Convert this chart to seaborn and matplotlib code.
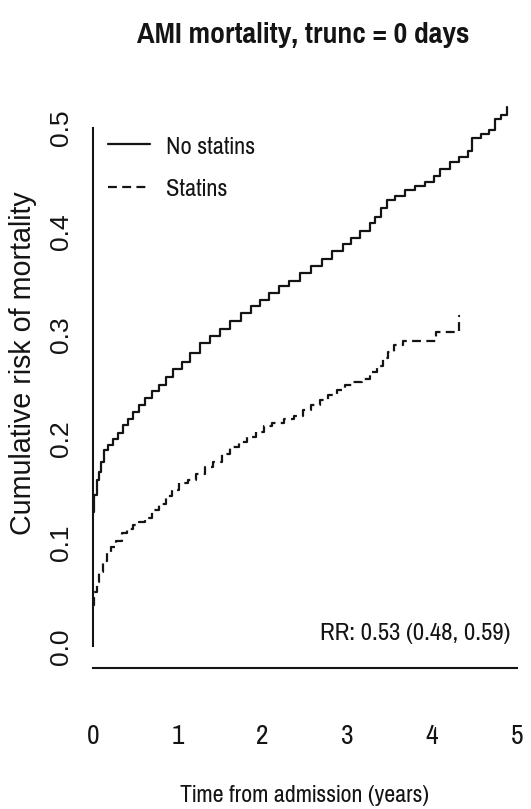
import matplotlib
matplotlib.use("Agg")
import matplotlib.pyplot as plt
from matplotlib import font_manager
from matplotlib.lines import Line2D
import seaborn as sns
import pandas as pd

# ---------------- data ----------------
no_statins_t = [0.00, 0.02, 0.05, 0.08, 0.10, 0.13, 0.18, 0.24, 0.30, 0.36, 0.42, 0.48,
                0.55, 0.62, 0.70, 0.78, 0.87, 0.95, 1.05, 1.15, 1.27, 1.38, 1.50, 1.62,
                1.75, 1.87, 1.97, 2.08, 2.20, 2.32, 2.45, 2.58, 2.70, 2.82, 2.95, 3.05,
                3.15, 3.27, 3.33, 3.40, 3.47, 3.56, 3.68, 3.80, 3.92, 4.02, 4.10, 4.21,
                4.32, 4.42, 4.47, 4.58, 4.67, 4.74, 4.82, 4.88]
no_statins_v = [0.130, 0.146, 0.160, 0.168, 0.178, 0.189, 0.194, 0.200, 0.206, 0.213, 0.219, 0.226,
                0.233, 0.239, 0.246, 0.252, 0.260, 0.267, 0.274, 0.283, 0.292, 0.299, 0.306, 0.314,
                0.321, 0.328, 0.334, 0.341, 0.347, 0.352, 0.360, 0.367, 0.373, 0.381, 0.388, 0.394,
                0.400, 0.408, 0.414, 0.422, 0.430, 0.434, 0.440, 0.444, 0.448, 0.453, 0.460, 0.467,
                0.472, 0.477, 0.490, 0.494, 0.498, 0.508, 0.512, 0.520]

statins_t = [0.00, 0.02, 0.05, 0.08, 0.12, 0.17, 0.22, 0.28, 0.34, 0.40, 0.47, 0.55,
             0.62, 0.70, 0.78, 0.86, 0.94, 1.02, 1.12, 1.22, 1.32, 1.42, 1.52, 1.62,
             1.72, 1.82, 1.92, 2.02, 2.12, 2.25, 2.37, 2.48, 2.58, 2.68, 2.78, 2.88,
             2.97, 3.07, 3.17, 3.27, 3.35, 3.42, 3.48, 3.55, 3.66, 4.05, 4.32, 4.33]
statins_v = [0.040, 0.052, 0.062, 0.072, 0.082, 0.090, 0.096, 0.102, 0.109, 0.113, 0.117, 0.120,
             0.124, 0.131, 0.137, 0.145, 0.151, 0.157, 0.160, 0.166, 0.173, 0.178, 0.185, 0.192,
             0.197, 0.202, 0.207, 0.212, 0.215, 0.219, 0.222, 0.228, 0.233, 0.237, 0.242, 0.247,
             0.252, 0.255, 0.258, 0.264, 0.270, 0.278, 0.284, 0.290, 0.294, 0.303, 0.318, 0.318]

series_labels = ["No statins", "Statins"]
x_ticks = [0, 1, 2, 3, 4, 5]
y_ticks = [0.0, 0.1, 0.2, 0.3, 0.4, 0.5]
y_tick_labels = ["0.0", "0.1", "0.2", "0.3", "0.4", "0.5"]
title_text = "AMI mortality, trunc = 0 days"
x_label = "Time from admission (years)"
y_label = "Cumulative risk of mortality"
rr_text = "RR: 0.53 (0.48, 0.59)"

# ---------------- fonts ----------------
sns.set_style("white")
fl = font_manager.fontManager.ttflist
names = {f.name for f in fl}
def pick(cands, bold=False):
    for c in cands:
        if c in names:
            if not bold or any(f.name == c and f.weight in (700, "bold") for f in fl):
                return c
    return "Liberation Sans"
NARROW = pick(["Liberation Sans Narrow", "Arial Narrow", "Pragati Narrow", "Roboto Condensed",
               "PT Sans Narrow", "Archivo Narrow"])
NARROW_B = pick(["Liberation Sans Narrow", "Arial Narrow", "Pragati Narrow", "Roboto Condensed",
                 "PT Sans Narrow", "Archivo Narrow", "Asap Condensed"], bold=True)
REG = "Liberation Sans"
plt.rcParams["font.family"] = [REG, "DejaVu Sans"]
INK = "#141414"

W, H = 531, 809
fig = plt.figure(figsize=(W / 100, H / 100), dpi=100)
ax_left, ax_right, ax_top, ax_bottom = 92.7, 516.7, 85.0, 668.0
AW, AH = ax_right - ax_left, ax_bottom - ax_top
ax = fig.add_axes([ax_left / W, 1 - ax_bottom / H, AW / W, AH / H])

df_a = pd.DataFrame({"t": no_statins_t, "v": no_statins_v})
df_b = pd.DataFrame({"t": statins_t, "v": statins_v})
LW = 1.6
DASH = (0, (4.0, 2.4))
sns.lineplot(data=df_a, x="t", y="v", ax=ax, color=INK, lw=LW, drawstyle="steps-post",
             errorbar=None, estimator=None)
sns.lineplot(data=df_b, x="t", y="v", ax=ax, color=INK, lw=LW, drawstyle="steps-post",
             errorbar=None, estimator=None, linestyle=DASH)

ax.set_xlim(0, 5)
ax.set_ylim(-0.0208, 0.541)
for s in ["top", "right"]:
    ax.spines[s].set_visible(False)
ax.spines["left"].set_bounds(0, 0.5)
ax.spines["bottom"].set_bounds(0, 5)
for s in ["left", "bottom"]:
    ax.spines[s].set_linewidth(1.5)
    ax.spines[s].set_color(INK)

ax.set_xticks(x_ticks)
ax.set_xticklabels([str(x) for x in x_ticks], fontfamily=NARROW, fontsize=16, color=INK)
ax.set_yticks(y_ticks)
ax.set_yticklabels(y_tick_labels, fontfamily=REG, fontsize=15, color=INK,
                   rotation=90, va="center", ha="right")
ax.tick_params(axis="x", direction="out", length=15, width=1.5, pad=24, color=INK)
ax.tick_params(axis="y", direction="out", length=9.4, width=1.5, pad=9, color=INK)

ax.set_xlabel(x_label, fontfamily=NARROW, fontsize=17, color=INK)
ax.xaxis.label.set(va="center", ha="center")
ax.xaxis.set_label_coords(0.5, -(795 - ax_bottom) / AH)
ax.set_ylabel(y_label, fontfamily=REG, fontsize=17, color=INK)
ax.yaxis.label.set(va="center", ha="center", rotation_mode="anchor")
ax.yaxis.set_label_coords((23 - ax_left) / AW, (ax_bottom - 363) / AH)

title = fig.text(303 / W, 1 - 43 / H, title_text, fontfamily=NARROW_B, fontweight="bold",
                 fontsize=21, ha="center", va="baseline", color=INK)
rr = ax.text(510 / W, 1 - 634 / H, rr_text, transform=fig.transFigure, fontfamily=NARROW,
             fontsize=17, ha="right", va="center", color=INK)

# ---- fit text sizes to measured widths of the reference ----
fig.canvas.draw()
R = fig.canvas.get_renderer()
def fit(t, target, along="w"):
    bb = t.get_window_extent(R)
    cur = bb.width if along == "w" else bb.height
    t.set_fontsize(t.get_fontsize() * target / cur)
fit(title, 333)
fit(rr, 190)
fit(ax.xaxis.label, 250)
fit(ax.yaxis.label, 345, along="h")

probe = fig.text(0, 0, series_labels[0], fontfamily=NARROW, fontsize=17)
fit(probe, 89)
leg_fs = probe.get_fontsize()
probe.remove()
probe = fig.text(0, 0, "0.5", fontfamily=REG, fontsize=15, rotation=90)
fit(probe, 37, along="h")
ytick_fs = probe.get_fontsize()
probe.remove()
for t in ax.get_yticklabels():
    t.set_fontsize(ytick_fs)
for t in ax.get_xticklabels():
    t.set_fontsize(leg_fs * 1.12)

handles = [Line2D([], [], color=INK, lw=LW), Line2D([], [], color=INK, lw=LW, linestyle=DASH)]
fs_px = leg_fs * 100 / 72
def make_legend(anchor_top, spacing):
    return ax.legend(handles, series_labels, loc="upper left",
                     bbox_to_anchor=(108 / W, 1 - anchor_top / H), bbox_transform=fig.transFigure,
                     frameon=False, handlelength=42 / fs_px, handletextpad=16 / fs_px,
                     labelspacing=spacing, borderpad=0, borderaxespad=0,
                     prop={"family": NARROW, "size": leg_fs})
leg = make_legend(132, 0.7)
fig.canvas.draw()
tx = leg.get_texts()
c0 = H - (tx[0].get_window_extent(R).y0 + tx[0].get_window_extent(R).y1) / 2
c1 = H - (tx[1].get_window_extent(R).y0 + tx[1].get_window_extent(R).y1) / 2
spacing = 0.7 + (43 - (c1 - c0)) / fs_px
leg = make_legend(132 + (147 - c0), spacing)
for t in leg.get_texts():
    t.set_color(INK)

# x tick label vertical position: centre at y = 736
fig.canvas.draw()
bb = ax.get_xticklabels()[0].get_window_extent(R)
cy = H - (bb.y0 + bb.y1) / 2
ax.tick_params(axis="x", pad=24 + (736 - cy) * 0.72)
# y tick label horizontal position: centre at x = 61
bb = ax.get_yticklabels()[-1].get_window_extent(R)
cx = (bb.x0 + bb.x1) / 2
ax.tick_params(axis="y", pad=9 + (cx - 61) * 0.72)

fig.savefig("out.png", dpi=100)
